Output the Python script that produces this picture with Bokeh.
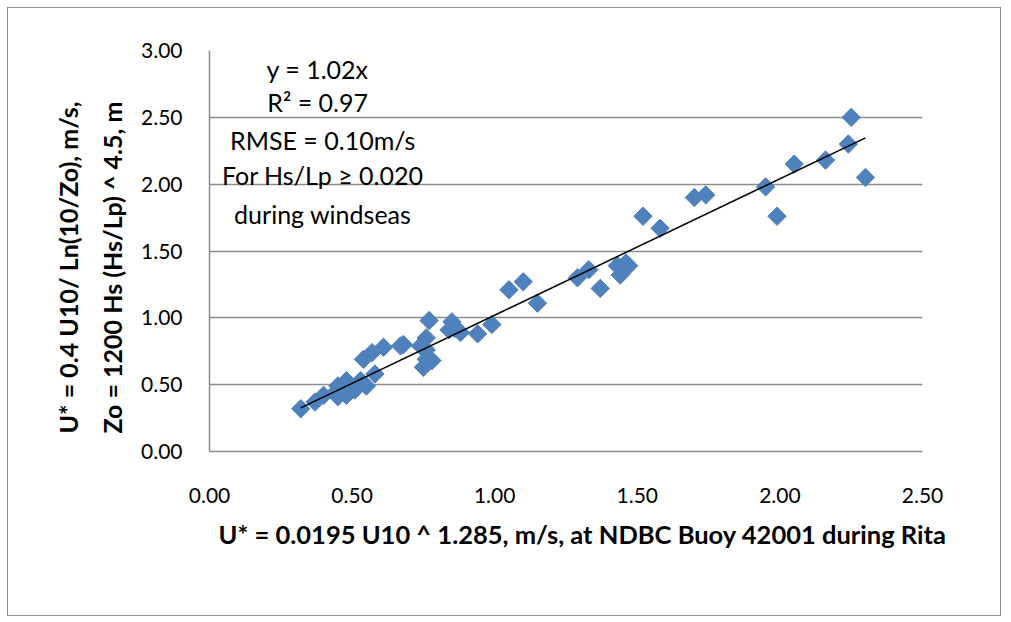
import numpy as np
from bokeh.plotting import figure
from bokeh.models import Label, FixedTicker, NumeralTickFormatter, Range1d, Title
from bokeh.embed import file_html
from bokeh.resources import INLINE

# --- data ---
x_ustar_buoy = [0.32, 0.37, 0.40, 0.44, 0.45, 0.48, 0.48, 0.45, 0.51, 0.53, 0.55, 0.58,
                0.54, 0.57, 0.61, 0.67, 0.68, 0.74, 0.76, 0.76, 0.75, 0.76, 0.78, 0.77,
                0.85, 0.84, 0.86, 0.88, 0.94, 0.99, 1.05, 1.10, 1.15, 1.29, 1.33, 1.37,
                1.43, 1.44, 1.46, 1.47, 1.52, 1.58, 1.70, 1.74, 1.95, 1.99, 2.05, 2.16,
                2.24, 2.25, 2.30]
y_ustar_wave = [0.32, 0.37, 0.42, 0.44, 0.41, 0.42, 0.53, 0.49, 0.46, 0.53, 0.49, 0.58,
                0.69, 0.74, 0.78, 0.79, 0.80, 0.79, 0.85, 0.76, 0.63, 0.69, 0.68, 0.98,
                0.97, 0.91, 0.92, 0.89, 0.88, 0.95, 1.21, 1.27, 1.11, 1.30, 1.36, 1.22,
                1.39, 1.32, 1.41, 1.39, 1.76, 1.67, 1.90, 1.92, 1.98, 1.76, 2.15, 2.18,
                2.30, 2.50, 2.05]
trend_slope = 1.02
x_ticks = [0.0, 0.5, 1.0, 1.5, 2.0, 2.5]
y_ticks = [0.0, 0.5, 1.0, 1.5, 2.0, 2.5, 3.0]
annotation_lines = ["y = 1.02x", "R\u00b2 = 0.97", "RMSE = 0.10m/s",
                    "For Hs/Lp \u2265 0.020", "during windseas"]
x_title = "U* = 0.0195 U10 ^ 1.285, m/s, at NDBC Buoy 42001 during Rita"
y_title_lines = ["U* = 0.4 U10/ Ln(10/Zo), m/s,", "Zo = 1200 Hs (Hs/Lp) ^ 4.5, m"]

FONT = "Lato"
GRID = "#8c8c8c"

p = figure(width=994, height=609, output_backend="svg", toolbar_location=None,
           x_range=Range1d(0, 2.5), y_range=Range1d(0, 3.0),
           min_border_left=201, min_border_right=80, min_border_top=42,
           min_border_bottom=166)
p.styles = {"border": "1px solid #8c8c8c", "margin": "7px 0 0 7px"}
p.outline_line_color = None
p.background_fill_color = "white"
p.border_fill_color = "white"

# axes
for ax in (p.xaxis[0], p.yaxis[0]):
    ax.major_tick_line_color = None
    ax.minor_tick_line_color = None
    ax.axis_line_color = GRID
    ax.axis_line_width = 1.5
    ax.major_label_text_font = FONT
    ax.major_label_text_font_size = "21px"
    ax.major_label_text_color = "black"
    ax.formatter = NumeralTickFormatter(format="0.00")

p.xaxis.ticker = FixedTicker(ticks=x_ticks)
p.yaxis.ticker = FixedTicker(ticks=y_ticks)
p.xaxis.major_label_standoff = 30
p.yaxis.major_label_standoff = 21

p.xgrid.grid_line_color = None
p.ygrid.grid_line_color = GRID
p.ygrid.grid_line_width = 1.5

# axis titles as side titles
p.add_layout(Title(text=x_title, align="left", offset=9, standoff=22,
                   text_font=FONT, text_font_style="bold", text_font_size="25.5px",
                   text_color="black"), "below")
p.add_layout(Title(text=y_title_lines[1], align="left", offset=18, standoff=24,
                   text_font=FONT, text_font_style="bold", text_font_size="25px",
                   text_color="black"), "left")
p.add_layout(Title(text=y_title_lines[0], align="left", offset=18, standoff=0,
                   text_font=FONT, text_font_style="bold", text_font_size="25px",
                   text_color="black"), "left")

# points
p.scatter(x_ustar_buoy, y_ustar_wave, marker="square", angle=np.pi / 4, size=13,
          fill_color="#4f81bd", line_color="#4f81bd")

# trend line y = 1.02 x over data span
xs = np.array([min(x_ustar_buoy), max(x_ustar_buoy)])
p.line(xs, trend_slope * xs, line_color="black", line_width=1.5)

# annotation text
ann_x = [0.379, 0.379, 0.397, 0.397, 0.397]
ann_y = [2.865, 2.611, 2.327, 2.065, 1.780]
for t, ax_, ay_ in zip(annotation_lines, ann_x, ann_y):
    p.add_layout(Label(x=ax_, y=ay_, text=t, text_align="center",
                       text_baseline="middle", text_font=FONT,
                       text_font_size="25px", text_color="black"))

open("out.html", "w").write(file_html(p, INLINE))
